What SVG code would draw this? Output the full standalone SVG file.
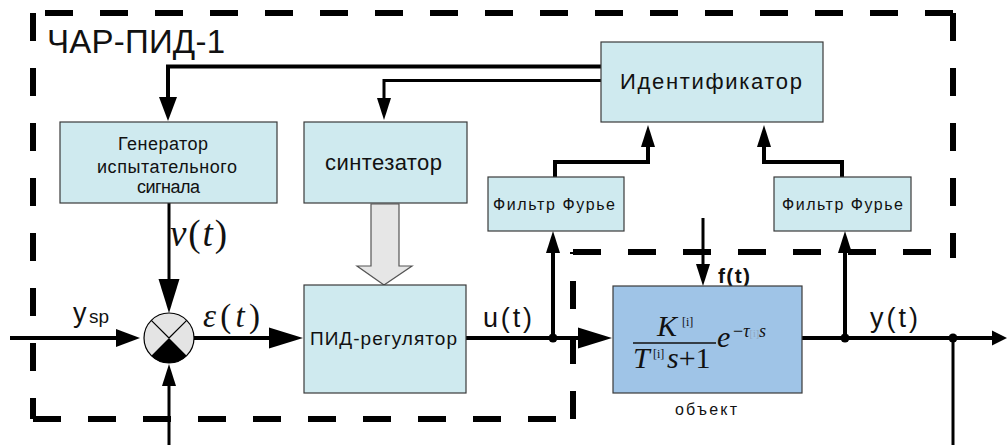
<svg xmlns="http://www.w3.org/2000/svg" width="1007" height="445" viewBox="0 0 1007 445">
  <defs>
    <!-- arrowheads: base sits at the path end, tip points forward -->
    <marker id="ah-lg" markerUnits="userSpaceOnUse" orient="auto" markerWidth="34" markerHeight="21" refX="0" refY="10.5" overflow="visible">
      <path d="M0,0 L34,10.5 L0,21 Z" fill="#000"/>
    </marker>
    <marker id="ah-md" markerUnits="userSpaceOnUse" orient="auto" markerWidth="24" markerHeight="18" refX="0" refY="9" overflow="visible">
      <path d="M0,0 L24,9 L0,18 Z" fill="#000"/>
    </marker>
    <marker id="ah-sm" markerUnits="userSpaceOnUse" orient="auto" markerWidth="22" markerHeight="14" refX="0" refY="7" overflow="visible">
      <path d="M0,0 L22,7 L0,14 Z" fill="#000"/>
    </marker>
    <marker id="ah-out" markerUnits="userSpaceOnUse" orient="auto" markerWidth="15" markerHeight="15" refX="0" refY="7.5" overflow="visible">
      <path d="M0,0 L15,7.5 L0,15 Z" fill="#000"/>
    </marker>
  </defs>
  <style>
    .box { fill: #cfeaef; stroke: #3a3a3a; stroke-width: 1.2; }
    .plant { fill: #9fc4e7; stroke: #3a3a3a; stroke-width: 1.2; }
    .lbl { font-family: "Liberation Sans", Arial, sans-serif; fill: #111; }
    .math { font-family: "Liberation Serif", "Times New Roman", serif; fill: #111; }
    .it { font-style: italic; }
    .wire { fill: none; stroke: #000; stroke-linejoin: miter; }
    .w4 { stroke-width: 4; }
    .w3 { stroke-width: 3; }
    .bound { fill: none; stroke: #000; stroke-width: 6; stroke-dasharray: 28 27; }
    .dot { fill: #000; }
  </style>

  <rect width="1007" height="445" fill="#fff"/>

  <!-- dashed outline of the ЧАР-ПИД-1 block -->
  <g id="boundary">
    <line class="bound" x1="33" y1="13" x2="33" y2="419"/>
    <line class="bound" x1="33" y1="419" x2="573" y2="419"/>
    <line class="bound" x1="573" y1="419" x2="573" y2="252"/>
    <line class="bound" x1="573" y1="252" x2="953" y2="252"/>
    <line class="bound" x1="953" y1="13" x2="953" y2="258"/>
    <line class="bound" x1="953" y1="13" x2="45" y2="13"/>
    <text class="lbl" x="47" y="53" font-size="33" textLength="178" lengthAdjust="spacing">ЧАР-ПИД-1</text>
  </g>

  <!-- signal lines -->
  <g id="connectors">
    <path class="wire w4" d="M601,66.5 H168 V97" marker-end="url(#ah-md)"/>
    <path class="wire w3" d="M601,80.5 H384 V98" marker-end="url(#ah-sm)"/>
    <path class="wire w4" d="M555,177 V162 H648 V147" marker-end="url(#ah-sm)"/>
    <path class="wire w4" d="M842,177 V162 H764 V147" marker-end="url(#ah-sm)"/>
    <path class="wire w3" d="M169,203 V279" marker-end="url(#ah-lg)"/>
    <path class="wire w4" d="M10,338 H116" marker-end="url(#ah-md)"/>
    <path class="wire w4" d="M194,338 H269" marker-end="url(#ah-lg)"/>
    <path class="wire w3" d="M169,445 V386" marker-end="url(#ah-sm)"/>
    <path class="wire w4" d="M466,338 H578" marker-end="url(#ah-lg)"/>
    <path class="wire w4" d="M553,338 V253" marker-end="url(#ah-sm)"/>
    <path class="wire w3" d="M703,218 V264" marker-end="url(#ah-sm)"/>
    <path class="wire w4" d="M802,338 H992" marker-end="url(#ah-out)"/>
    <path class="wire w4" d="M845,338 V253" marker-end="url(#ah-sm)"/>
    <path class="wire w3" d="M953,338 V445"/>
    <circle class="dot" cx="553" cy="338" r="4.5"/>
    <circle class="dot" cx="845" cy="338" r="4.5"/>
    <circle class="dot" cx="953" cy="338" r="4.5"/>
    <!-- tuning transfer from synthesizer to controller -->
    <polygon points="371,204 399,204 399,266 412,266 384,285 357,266 371,266" fill="#e6e6e6" stroke="#555" stroke-width="1.2"/>
    <!-- signal labels -->
    <text class="lbl" x="73" y="322" font-size="27">y</text>
    <text class="lbl" x="89" y="323" font-size="19">sp</text>
    <text class="math" x="170" y="246" font-size="37" textLength="57" lengthAdjust="spacing"><tspan class="it">ν</tspan>(<tspan class="it">t</tspan>)</text>
    <text class="math" x="203" y="327" font-size="33" textLength="57" lengthAdjust="spacing"><tspan class="it">ε</tspan>(<tspan class="it">t</tspan>)</text>
    <text class="lbl" x="483" y="327" font-size="27" textLength="49" lengthAdjust="spacing">u(t)</text>
    <text class="lbl" x="870" y="327" font-size="27" textLength="48" lengthAdjust="spacing">y(t)</text>
    <text class="lbl" x="718" y="283" font-size="21" font-weight="bold" textLength="32" lengthAdjust="spacing">f(t)</text>
  </g>

  <g id="identifier">
    <rect class="box" x="601" y="42" width="222" height="80"/>
    <text class="lbl" x="711" y="89" font-size="22" text-anchor="middle" textLength="182" lengthAdjust="spacing">Идентификатор</text>
  </g>

  <g id="generator">
    <rect class="box" x="60" y="122" width="217" height="81"/>
    <text class="lbl" x="163" y="150" font-size="18" text-anchor="middle" textLength="90" lengthAdjust="spacing">Генератор</text>
    <text class="lbl" x="167" y="173" font-size="18" text-anchor="middle" textLength="140" lengthAdjust="spacing">испытательного</text>
    <text class="lbl" x="168.5" y="193" font-size="18" text-anchor="middle" textLength="63" lengthAdjust="spacing">сигнала</text>
  </g>

  <g id="synthesizer">
    <rect class="box" x="304" y="122" width="163" height="81"/>
    <text class="lbl" x="383.5" y="170" font-size="22" text-anchor="middle" textLength="117" lengthAdjust="spacing">синтезатор</text>
  </g>

  <g id="fourier-1">
    <rect class="box" x="488" y="177" width="136" height="54"/>
    <text class="lbl" x="554" y="210" font-size="16" text-anchor="middle" textLength="122" lengthAdjust="spacing">Фильтр Фурье</text>
  </g>

  <g id="fourier-2">
    <rect class="box" x="774" y="177" width="137" height="54"/>
    <text class="lbl" x="842.5" y="210" font-size="16" text-anchor="middle" textLength="121" lengthAdjust="spacing">Фильтр Фурье</text>
  </g>

  <g id="pid">
    <rect class="box" x="304" y="285" width="162" height="108"/>
    <text class="lbl" x="383.5" y="345" font-size="19" text-anchor="middle" textLength="147" lengthAdjust="spacing">ПИД-регулятор</text>
  </g>

  <g id="summator">
    <circle cx="169" cy="338" r="25" fill="#e4e4e4" stroke="#000" stroke-width="1.2"/>
    <path d="M169,338 L186.7,355.7 A25,25 0 0 1 151.3,355.7 Z" fill="#000"/>
    <path d="M169,338 L151.3,320.3 M169,338 L186.7,320.3" stroke="#000" stroke-width="1.2"/>
  </g>

  <g id="plant">
    <rect class="plant" x="613" y="286" width="189" height="107"/>
    <text class="math it" x="657" y="336" font-size="30">K</text>
    <text class="math" x="682" y="326" font-size="12">[i]</text>
    <line x1="633" y1="343" x2="716" y2="343" stroke="#111" stroke-width="1.5"/>
    <text class="math it" x="633" y="368" font-size="30">T</text>
    <text class="math" x="653" y="358" font-size="12">[i]</text>
    <text class="math" x="667" y="368" font-size="30"><tspan class="it">s</tspan>+1</text>
    <text class="math it" x="717" y="347" font-size="30">e</text>
    <text class="math" x="733" y="337" font-size="18">−<tspan class="it">τ</tspan><tspan font-size="10" fill="#8fa6c0">[i]</tspan><tspan class="it">s</tspan></text>
    <text class="lbl" x="706" y="415" font-size="16" text-anchor="middle" textLength="62" lengthAdjust="spacing">объект</text>
  </g>
</svg>
